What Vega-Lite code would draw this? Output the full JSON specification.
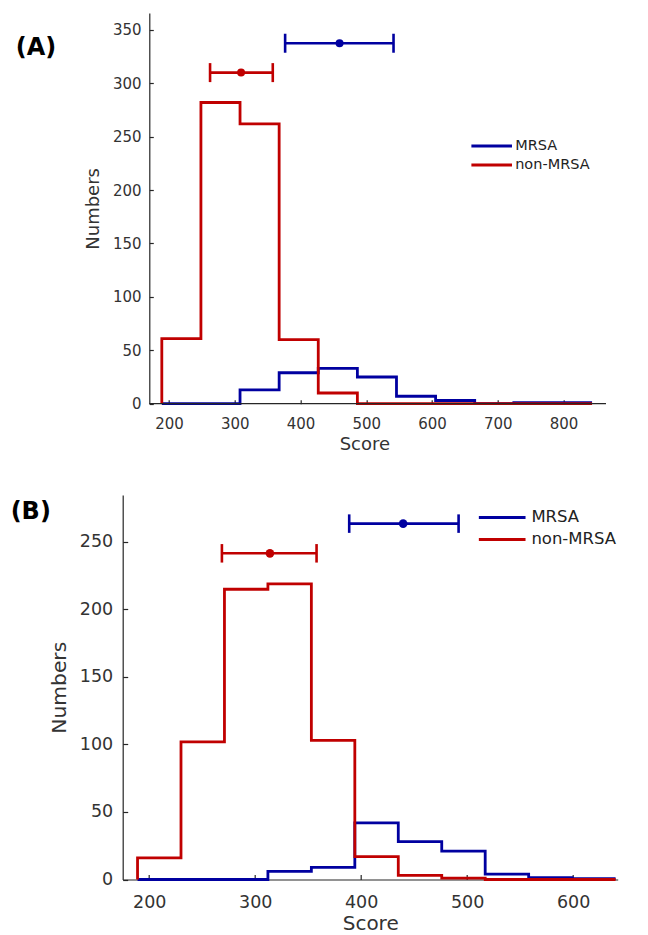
{
  "$schema": "https://vega.github.io/schema/vega-lite/v6.json",
  "padding": {"left": 9.7, "top": 13, "right": 5, "bottom": 0},
  "config": {
    "view": {"stroke": null},
    "font": "DejaVu Sans",
    "axis": {"grid": false, "domainColor": "#262626", "tickColor": "#262626", "labelColor": "#333333", "titleColor": "#333333", "labelFont": "DejaVu Sans", "titleFont": "DejaVu Sans", "titleFontWeight": "normal", "domainWidth": 1.2, "tickWidth": 1.2},
    "legend": {"labelFont": "DejaVu Sans", "labelColor": "#222222", "padding": 0}
  },
  "datasets": {
    "histA": [
      {"group": "MRSA", "i": 0, "score": 189, "count": 0},
      {"group": "MRSA", "i": 1, "score": 248.5, "count": 0},
      {"group": "MRSA", "i": 2, "score": 308, "count": 13},
      {"group": "MRSA", "i": 3, "score": 367.5, "count": 29},
      {"group": "MRSA", "i": 4, "score": 427, "count": 33},
      {"group": "MRSA", "i": 5, "score": 486.5, "count": 25},
      {"group": "MRSA", "i": 6, "score": 546, "count": 7},
      {"group": "MRSA", "i": 7, "score": 605.5, "count": 3},
      {"group": "MRSA", "i": 8, "score": 665, "count": 0},
      {"group": "MRSA", "i": 9, "score": 724.5, "count": 1},
      {"group": "MRSA", "i": 10, "score": 784, "count": 1},
      {"group": "MRSA", "i": 11, "score": 843.5, "count": 1},
      {"group": "non-MRSA", "i": 0, "score": 189, "count": 0},
      {"group": "non-MRSA", "i": 1, "score": 189, "count": 61},
      {"group": "non-MRSA", "i": 2, "score": 248.5, "count": 282},
      {"group": "non-MRSA", "i": 3, "score": 308, "count": 262},
      {"group": "non-MRSA", "i": 4, "score": 367.5, "count": 60},
      {"group": "non-MRSA", "i": 5, "score": 427, "count": 10},
      {"group": "non-MRSA", "i": 6, "score": 486.5, "count": 0},
      {"group": "non-MRSA", "i": 7, "score": 546, "count": 0},
      {"group": "non-MRSA", "i": 8, "score": 605.5, "count": 0},
      {"group": "non-MRSA", "i": 9, "score": 665, "count": 0},
      {"group": "non-MRSA", "i": 10, "score": 724.5, "count": 0},
      {"group": "non-MRSA", "i": 11, "score": 784, "count": 0},
      {"group": "non-MRSA", "i": 12, "score": 843.5, "count": 0}
    ],
    "histB": [
      {"group": "MRSA", "i": 0, "score": 189, "count": 0},
      {"group": "MRSA", "i": 1, "score": 230, "count": 0},
      {"group": "MRSA", "i": 2, "score": 271, "count": 0},
      {"group": "MRSA", "i": 3, "score": 312, "count": 6},
      {"group": "MRSA", "i": 4, "score": 353, "count": 9},
      {"group": "MRSA", "i": 5, "score": 394, "count": 42},
      {"group": "MRSA", "i": 6, "score": 435, "count": 28},
      {"group": "MRSA", "i": 7, "score": 476, "count": 21},
      {"group": "MRSA", "i": 8, "score": 517, "count": 4},
      {"group": "MRSA", "i": 9, "score": 558, "count": 1.3},
      {"group": "MRSA", "i": 10, "score": 599, "count": 0.6},
      {"group": "MRSA", "i": 11, "score": 640, "count": 0.6},
      {"group": "non-MRSA", "i": 0, "score": 189, "count": 0},
      {"group": "non-MRSA", "i": 1, "score": 189, "count": 16},
      {"group": "non-MRSA", "i": 2, "score": 230, "count": 102},
      {"group": "non-MRSA", "i": 3, "score": 271, "count": 215},
      {"group": "non-MRSA", "i": 4, "score": 312, "count": 219},
      {"group": "non-MRSA", "i": 5, "score": 353, "count": 103},
      {"group": "non-MRSA", "i": 6, "score": 394, "count": 17},
      {"group": "non-MRSA", "i": 7, "score": 435, "count": 3},
      {"group": "non-MRSA", "i": 8, "score": 476, "count": 1},
      {"group": "non-MRSA", "i": 9, "score": 517, "count": 0},
      {"group": "non-MRSA", "i": 10, "score": 558, "count": 0},
      {"group": "non-MRSA", "i": 11, "score": 599, "count": 0},
      {"group": "non-MRSA", "i": 12, "score": 640, "count": 0}
    ],
    "errA": [
      {"group": "MRSA", "mean": 459.4, "lo": 376.6, "hi": 541.5, "y": 337.5},
      {"group": "non-MRSA", "mean": 309.6, "lo": 262.4, "hi": 357.8, "y": 310}
    ],
    "errB": [
      {"group": "MRSA", "mean": 439.6, "lo": 388.7, "hi": 491.9, "y": 263.6},
      {"group": "non-MRSA", "mean": 313.9, "lo": 268.6, "hi": 357.9, "y": 241.6}
    ]
  },
  "resolve": {"scale": {"color": "independent"}, "legend": {"color": "independent"}},
  "spacing": 41,
  "vconcat": [
    {
      "width": 483.3,
      "height": 390.7,
      "layer": [
        {
          "data": {"name": "histA"},
          "mark": {"type": "line", "interpolate": "step-after", "strokeWidth": 2.8, "strokeJoin": "miter"},
          "encoding": {
            "x": {"field": "score", "type": "quantitative", "scale": {"domain": [129.5, 864.7], "nice": false, "zero": false},
              "axis": {"values": [200, 300, 400, 500, 600, 700, 800], "title": "Score", "titleFontSize": 18, "labelFontSize": 15, "tickSize": -4, "labelPadding": 16.7, "titlePadding": 4, "domain": false}},
            "y": {"field": "count", "type": "quantitative", "scale": {"domain": [0, 365.8], "nice": false},
              "axis": {"values": [0, 50, 100, 150, 200, 250, 300, 350], "title": "Numbers", "offset": -26.6, "titleFontSize": 18, "labelFontSize": 15, "tickSize": -4, "labelPadding": 12.3, "titlePadding": 9.5}},
            "color": {"field": "group", "type": "nominal", "scale": {"domain": ["MRSA", "non-MRSA"], "range": ["#0000a0", "#c00000"]},
              "legend": {"orient": "none", "legendX": 357, "legendY": 121, "title": null, "symbolType": "M-2,0H2", "symbolSize": 412, "symbolStrokeWidth": 3, "labelFontSize": 14.5, "labelOffset": 11.5, "rowPadding": -1.3}},
            "order": {"field": "i", "type": "quantitative"}
          }
        },
        {
          "data": {"values": [{}]},
          "mark": {"type": "rule", "color": "#262626", "strokeWidth": 1.2},
          "encoding": {"x": {"datum": 170}, "x2": {"datum": 864.7}, "y": {"datum": 0}}
        },
        {
          "data": {"name": "errA"},
          "mark": {"type": "rule", "strokeWidth": 2.6, "opacity": 1},
          "encoding": {"x": {"field": "lo", "type": "quantitative"}, "x2": {"field": "hi"}, "y": {"field": "y", "type": "quantitative"}, "color": {"field": "group", "type": "nominal", "legend": null}}
        },
        {
          "data": {"name": "errA"},
          "mark": {"type": "tick", "orient": "vertical", "size": 19, "thickness": 2.6, "opacity": 1},
          "encoding": {"x": {"field": "lo", "type": "quantitative"}, "y": {"field": "y", "type": "quantitative"}, "color": {"field": "group", "type": "nominal", "legend": null}}
        },
        {
          "data": {"name": "errA"},
          "mark": {"type": "tick", "orient": "vertical", "size": 19, "thickness": 2.6, "opacity": 1},
          "encoding": {"x": {"field": "hi", "type": "quantitative"}, "y": {"field": "y", "type": "quantitative"}, "color": {"field": "group", "type": "nominal", "legend": null}}
        },
        {
          "data": {"name": "errA"},
          "mark": {"type": "point", "filled": true, "size": 64, "opacity": 1},
          "encoding": {"x": {"field": "mean", "type": "quantitative"}, "y": {"field": "y", "type": "quantitative"}, "color": {"field": "group", "type": "nominal", "legend": null}}
        },
        {
          "data": {"values": [{}]},
          "mark": {"type": "text", "text": "(A)", "font": "DejaVu Sans", "fontWeight": "bold", "fontSize": 24, "align": "left", "baseline": "alphabetic", "color": "#000000"},
          "encoding": {"x": {"datum": -33.2}, "y": {"datum": 326.5}}
        }
      ]
    },
    {
      "width": 495,
      "height": 384.5,
      "layer": [
        {
          "data": {"name": "histB"},
          "mark": {"type": "line", "interpolate": "step-after", "strokeWidth": 2.8, "strokeJoin": "miter"},
          "encoding": {
            "x": {"field": "score", "type": "quantitative", "scale": {"domain": [175, 642], "nice": false, "zero": false},
              "axis": {"values": [200, 300, 400, 500, 600], "title": "Score", "titleFontSize": 20, "labelFontSize": 17.5, "tickSize": -5, "labelPadding": 19.4, "titlePadding": 2.6}},
            "y": {"field": "count", "type": "quantitative", "scale": {"domain": [0, 284.8], "nice": false},
              "axis": {"values": [0, 50, 100, 150, 200, 250], "title": "Numbers", "titleFontSize": 20.3, "labelFontSize": 17.5, "tickSize": -5, "labelPadding": 15, "titlePadding": 9.5}},
            "color": {"field": "group", "type": "nominal", "scale": {"domain": ["MRSA", "non-MRSA"], "range": ["#0000a0", "#c00000"]},
              "legend": {"orient": "none", "legendX": 366, "legendY": 9, "title": null, "symbolType": "M-2,0H2", "symbolSize": 545, "symbolStrokeWidth": 3, "labelFontSize": 16.5, "labelOffset": 15.7, "rowPadding": -1.7}},
            "order": {"field": "i", "type": "quantitative"}
          }
        },
        {
          "data": {"name": "errB"},
          "mark": {"type": "rule", "strokeWidth": 2.6, "opacity": 1},
          "encoding": {"x": {"field": "lo", "type": "quantitative"}, "x2": {"field": "hi"}, "y": {"field": "y", "type": "quantitative"}, "color": {"field": "group", "type": "nominal", "legend": null}}
        },
        {
          "data": {"name": "errB"},
          "mark": {"type": "tick", "orient": "vertical", "size": 18.5, "thickness": 2.6, "opacity": 1},
          "encoding": {"x": {"field": "lo", "type": "quantitative"}, "y": {"field": "y", "type": "quantitative"}, "color": {"field": "group", "type": "nominal", "legend": null}}
        },
        {
          "data": {"name": "errB"},
          "mark": {"type": "tick", "orient": "vertical", "size": 18.5, "thickness": 2.6, "opacity": 1},
          "encoding": {"x": {"field": "hi", "type": "quantitative"}, "y": {"field": "y", "type": "quantitative"}, "color": {"field": "group", "type": "nominal", "legend": null}}
        },
        {
          "data": {"name": "errB"},
          "mark": {"type": "point", "filled": true, "size": 75, "opacity": 1},
          "encoding": {"x": {"field": "mean", "type": "quantitative"}, "y": {"field": "y", "type": "quantitative"}, "color": {"field": "group", "type": "nominal", "legend": null}}
        },
        {
          "data": {"values": [{}]},
          "mark": {"type": "text", "text": "(B)", "font": "DejaVu Sans", "fontWeight": "bold", "fontSize": 24, "align": "left", "baseline": "alphabetic", "color": "#000000"},
          "encoding": {"x": {"datum": 69.3}, "y": {"datum": 267}}
        }
      ]
    }
  ]
}
